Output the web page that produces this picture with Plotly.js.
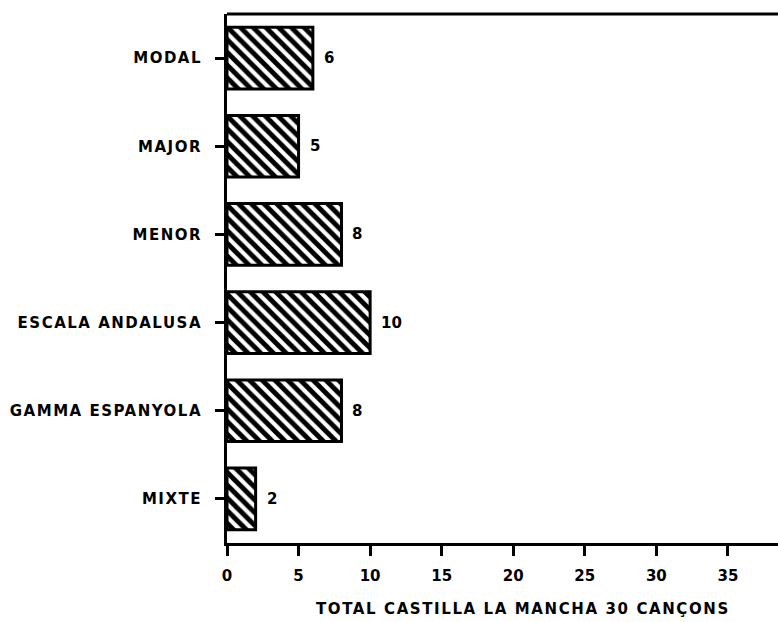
<!DOCTYPE html>
<html>
<head>
<meta charset="utf-8">
<script src="https://cdn.plot.ly/plotly-3.0.1.min.js"></script>
<style>
  html, body { margin: 0; padding: 0; background: #fff; }
  #chart { width: 778px; height: 622px; }
  .ytick text { letter-spacing: 1.5px; }
</style>
</head>
<body>
<div id="chart"></div>
<script>
const categories = ["MODAL", "MAJOR", "MENOR", "ESCALA ANDALUSA", "GAMMA ESPANYOLA", "MIXTE"];
const values = [6, 5, 8, 10, 8, 2];
const xTicks = [0, 5, 10, 15, 20, 25, 30, 35];
const xTitle = "TOTAL CASTILLA LA MANCHA 30 CANÇONS";

const baseFont = { family: "DejaVu Sans", color: "#000", weight: "bold" };
const f = (s) => Object.assign({}, baseFont, { size: s });

const trace = {
  type: "bar",
  orientation: "h",
  y: categories,
  x: values,
  width: 0.7,
  marker: {
    color: "#fff",
    line: { color: "#000", width: 3 },
    pattern: { shape: "\\", fgcolor: "#000", fgopacity: 1, bgcolor: "#fff", size: 9, solidity: 0.55, fillmode: "overlay" }
  },
  hoverinfo: "skip"
};

const annotations = categories.map((c, i) => ({
  x: values[i], y: c, xref: "x", yref: "y",
  text: String(values[i]), showarrow: false,
  xanchor: "left", xshift: 9,
  font: f(15)
}));
annotations.push({
  text: xTitle, showarrow: false,
  xref: "paper", yref: "paper", x: 0.537, y: 0,
  xanchor: "center", yanchor: "middle", yshift: -66,
  font: f(15), captureevents: false
});

const layout = {
  width: 778, height: 622,
  margin: { l: 227, r: 0, t: 14, b: 79 },
  paper_bgcolor: "#fff", plot_bgcolor: "#fff",
  showlegend: false,
  font: f(14),
  xaxis: {
    range: [0, 38.5],
    tickvals: xTicks,
    ticktext: xTicks.map(String),
    ticks: "outside", ticklen: 10, tickwidth: 3, tickcolor: "#000",
    ticklabelstandoff: 7,
    showline: true, linecolor: "#000", linewidth: 3, mirror: false,
    showgrid: false, zeroline: false,
    tickfont: f(15)
  },
  yaxis: {
    categoryorder: "array", categoryarray: categories.slice().reverse(),
    range: [-0.5, 5.5],
    ticks: "outside", ticklen: 9, tickwidth: 3, tickcolor: "#000",
    ticklabelstandoff: 10,
    showline: true, linecolor: "#000", linewidth: 3,
    showgrid: false, zeroline: false,
    tickfont: f(15)
  },
  shapes: [{
    type: "line", xref: "paper", yref: "paper",
    x0: 0, x1: 1, y0: 1, y1: 1,
    line: { color: "#000", width: 3 }
  }],
  annotations: annotations
};

Plotly.newPlot("chart", [trace], layout, { displayModeBar: false, staticPlot: true }).then(() => {
  document.querySelectorAll(".annotation text").forEach(t => {
    if (t.textContent === xTitle) t.style.letterSpacing = "1.6px";
  });
});
</script>
</body>
</html>
